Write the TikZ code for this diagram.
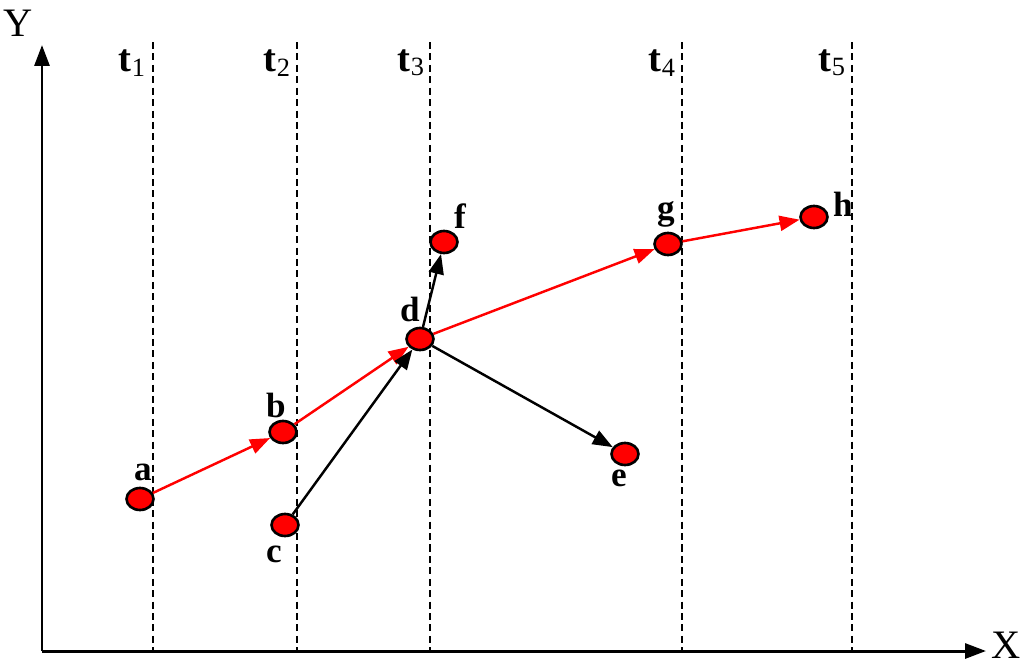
\documentclass[tikz,border=0pt]{standalone}
\usepackage{fontspec}
\setmainfont{Liberation Serif}
\usetikzlibrary{arrows.meta,shapes.geometric}
\newcommand{\tsub}[1]{t\raisebox{-0.25ex}{\mdseries\fontsize{15}{16}\selectfont #1}}
\begin{document}
\begin{tikzpicture}[x=0.02cm,y=-0.02cm,
  pt/.style={ellipse,draw=black,fill=red,line width=1.5pt,minimum width=0.54cm,minimum height=0.44cm,inner sep=0pt},
  lbl/.style={font=\fontsize{20}{22}\selectfont\bfseries,inner sep=0pt},
  tlbl/.style={font=\fontsize{22}{24}\selectfont\bfseries,inner sep=0pt},
  axlbl/.style={font=\fontsize{23}{25}\selectfont,inner sep=0pt},
  tline/.style={dashed,line width=0.9pt,dash pattern=on 4pt off 2.5pt},
  redarr/.style={red,line width=1.4pt,-{Triangle[length=0.4cm,width=0.3cm]}},
  blkarr/.style={black,line width=1.4pt,-{Triangle[length=0.4cm,width=0.3cm]}},
  axis/.style={line width=1.7pt,-{Triangle[length=0.42cm,width=0.3cm]}}]
\useasboundingbox (0,0) rectangle (1024,666);
% axes
\coordinate (O) at (42,651);
\coordinate (Ytip) at (42,45);
\coordinate (Xtip) at (986,651);
\draw[axis] (O) -- (Ytip);
\draw[axis] (O) -- (Xtip);
\node[axlbl] (Y) at (18,23) {Y};
\node[axlbl] (X) at (1006,645) {X};
% time lines
\foreach \x/\n in {153/1,297/2,430/3,682/4,852/5}{
  \coordinate (tt\n) at (\x,42);
  \coordinate (tb\n) at (\x,651);
  \draw[tline] (tt\n) -- (tb\n);
}
\node[tlbl] (t1) at (132,63) {\tsub{1}};
\node[tlbl] (t2) at (277,63) {\tsub{2}};
\node[tlbl] (t3) at (411,63) {\tsub{3}};
\node[tlbl] (t4) at (662,63) {\tsub{4}};
\node[tlbl] (t5) at (832,63) {\tsub{5}};
% points
\node[pt] (a) at (140,499) {};
\node[pt] (b) at (283,432) {};
\node[pt] (c) at (285,525) {};
\node[pt] (d) at (420,339) {};
\node[pt] (e) at (625,454) {};
\node[pt] (f) at (444,242) {};
\node[pt] (g) at (668,244) {};
\node[pt] (h) at (814,217) {};
% labels
\node[lbl] (la) at (143,472) {a};
\node[lbl] (lb) at (276,405) {b};
\node[lbl] (lc) at (274,554) {c};
\node[lbl] (ld) at (410,309) {d};
\node[lbl] (le) at (619,478) {e};
\node[lbl] (lf) at (460,216) {f};
\node[lbl] (lg) at (666,214) {g};
\node[lbl] (lh) at (843,204) {h};
% connectors
\draw[redarr] (a) -- (b);
\draw[redarr] (b) -- (d);
\draw[redarr] (d) -- (g);
\draw[redarr] (g) -- (h);
\draw[blkarr] (c) -- (d);
\draw[blkarr] (d) -- (f);
\draw[blkarr] (d) -- (e);
\end{tikzpicture}
\end{document}
